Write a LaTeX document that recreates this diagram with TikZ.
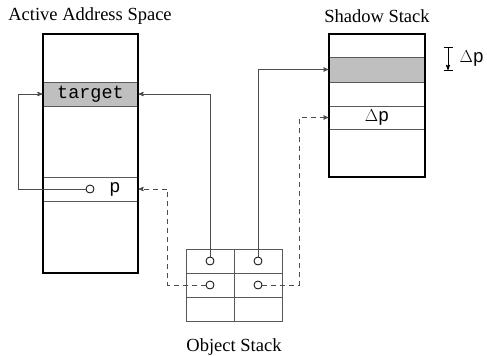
\documentclass[tikz,border=0pt]{standalone}
\usepackage{fontspec}
\setmainfont{Liberation Serif}
\setmonofont{Liberation Mono}
\usetikzlibrary{arrows, positioning}

\begin{document}
\begin{tikzpicture}[x=1pt, y=-1pt, >=stealth']
    \tikzstyle{frame} = [draw, line width=1.6pt, inner sep=0pt, minimum width=95pt]
    \tikzstyle{slot} = [draw=black!65, line width=0.9pt, inner sep=0pt, minimum width=95pt, font=\ttfamily\fontsize{18.5}{18.5}\selectfont]
    \tikzstyle{cell} = [draw=black!65, line width=0.9pt, inner sep=0pt, minimum width=48pt, minimum height=24pt]
    \tikzstyle{ref} = [draw, circle, line width=0.8pt, inner sep=0pt, minimum size=8pt, fill=white]
    \tikzstyle{title} = [font=\fontsize{18.5}{19}\selectfont]
    \tikzstyle{mono} = [font=\ttfamily\fontsize{18.5}{18.5}\selectfont]
    \tikzstyle{line} = [draw, ->, line width=0.9pt, black!70]
    \tikzstyle{dashline} = [line, dash pattern=on 5pt off 4pt]
    \useasboundingbox (0,0) rectangle (487,356);

    % Active address space
    \node [slot, fill=black!25, minimum height=24pt] (target) at (90.5,94) {target};
    \node [slot, minimum height=24pt] (prow) at (90.5,189) {};
    \node [frame, minimum height=239pt] (active) at (90.5,153.5) {};
    \node [ref] (pin) at (90,189) {};
    \node [mono] (p) at (115,189) {p};
    \node [title] (activelbl) at (90,16) {Active Address Space};

    % Shadow stack
    \node [slot, fill=black!25, minimum width=96pt, minimum height=25pt] (shade) at (377,69.5) {};
    \node [slot, minimum width=96pt, minimum height=23pt] (drow) at (377,117.5) {$\Delta$p};
    \node [frame, minimum width=96pt, minimum height=143pt] (shadow) at (377,105.5) {};
    \node [title] (shadowlbl) at (377,16) {Shadow Stack};

    % Object stack
    \foreach \r/\y in {1/261, 2/285, 3/309}
        \foreach \c/\x in {1/210, 2/258}
            \node [cell] (o\r\c) at (\x,\y) {};
    \foreach \r in {1, 2}
        \foreach \c in {1, 2}
            \node [ref] (c\r\c) at (o\r\c) {};
    \node [title] (objectlbl) at (234,347) {Object Stack};

    % Delta marker
    \coordinate (dtop) at (448,47);
    \coordinate (dbot) at (448,70);
    \draw [line width=0.9pt] ([xshift=-4.5pt]dtop) -- ([xshift=4.5pt]dtop);
    \draw [line width=0.9pt] ([xshift=-4.5pt]dbot) -- ([xshift=4.5pt]dbot);
    \draw [->, line width=0.9pt] (dtop) -- (dbot);
    \node [mono, right=8pt of dtop, yshift=-11.5pt] (dlbl) {$\Delta$p};

    % Pointers
    \draw [line] (pin.west) -- ++(-67,0) |- (target.west);
    \draw [line] (c11.north) |- (target.east);
    \draw [line] (c12.north) |- (shade.west);
    \draw [dashline] (c21.west) -- ++(-38,0) |- (prow.east);
    \draw [dashline] (c22.east) -- ++(37,0) |- (drow.west);
\end{tikzpicture}
\end{document}
